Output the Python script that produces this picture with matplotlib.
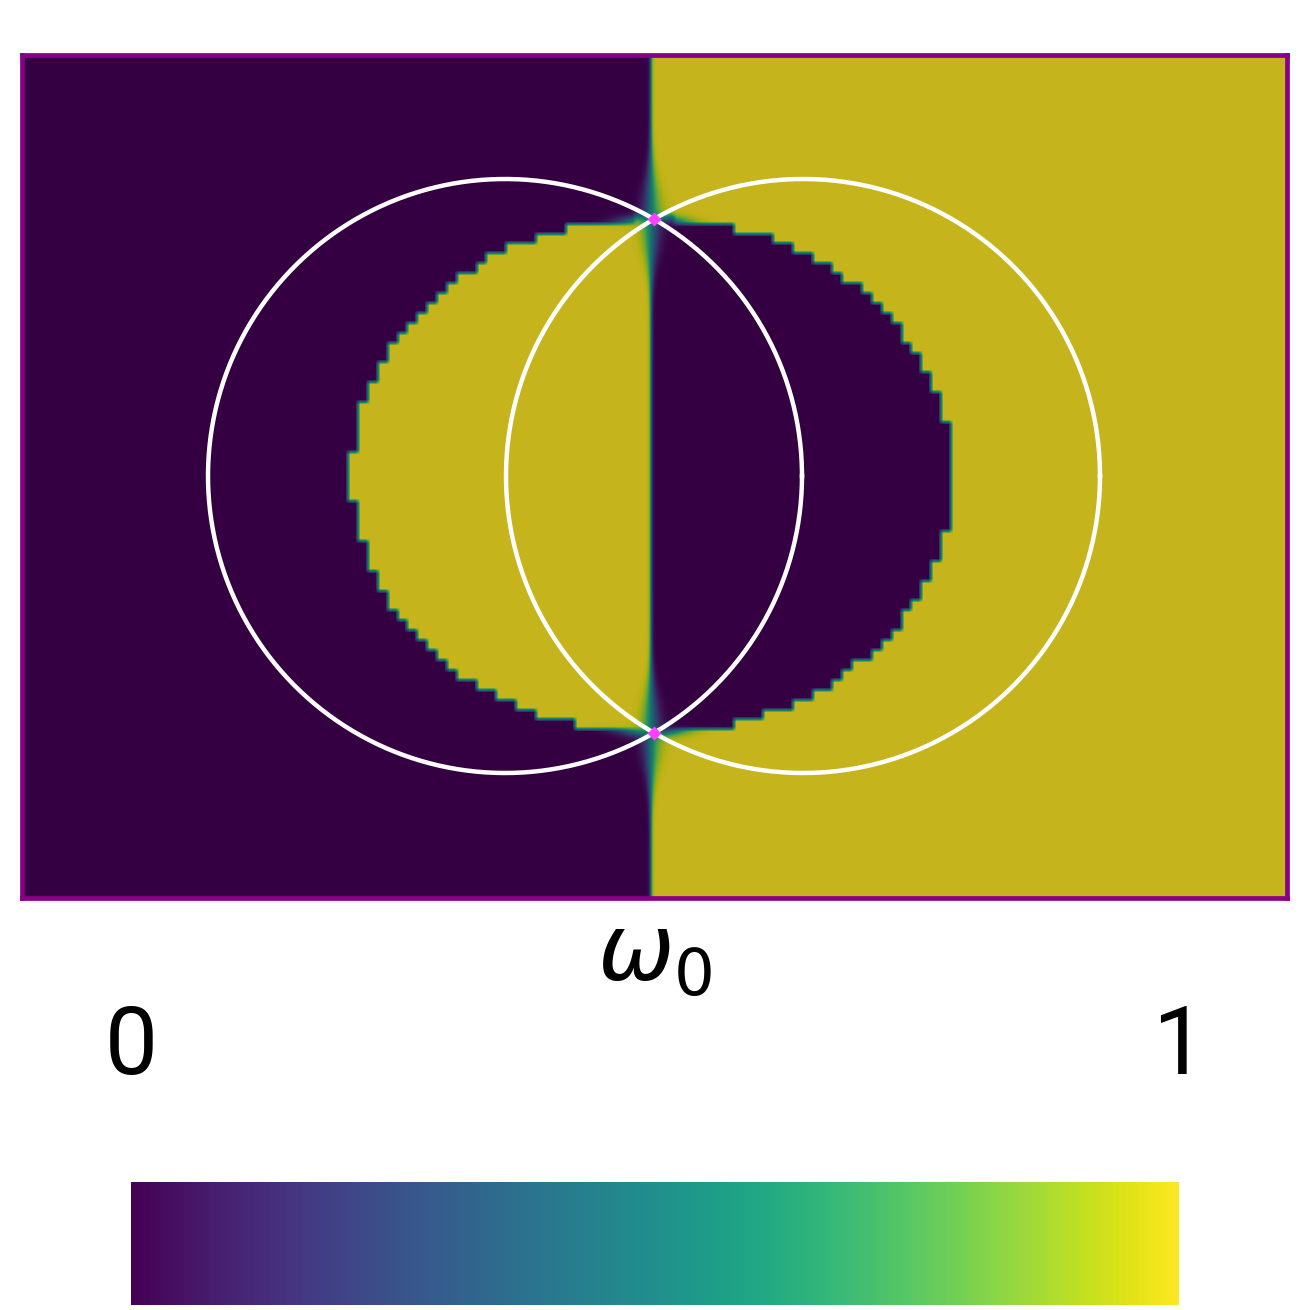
import numpy as np
import matplotlib.pyplot as plt
from matplotlib.colors import ListedColormap

# domain in image pixels
x_lo, x_hi = 22, 1287
y_lo, y_hi = 55, 898

# circles (centre x, centre y, radius)
circ_x = [505, 803]
circ_y = [476, 476]
circ_r = [297, 297]

# points where the circles meet
pts_x = [654, 654]
pts_y = [219, 733]

# inner flipped region (stepped ellipse) and the dividing line
ell_cx, ell_cy = 652, 476
ell_a, ell_b = 300, 258
line_x = 651
nx_cells, ny_cells = 128, 85

bar_labels = ['0', '1']

# field
W = x_hi - x_lo
H = y_hi - y_lo
X, Y = np.meshgrid(np.arange(W) + x_lo + 0.5, np.arange(H) + y_lo + 0.5)

cw = W / nx_cells
ch = H / ny_cells
xc = x_lo + (np.floor((X - x_lo) / cw) + 0.5) * cw
yc = y_lo + (np.floor((Y - y_lo) / ch) + 0.5) * ch
inside = ((xc - ell_cx) / ell_a) ** 2 + ((yc - ell_cy) / ell_b) ** 2 < 1
g = np.where(inside, -1.0, 1.0)


def box(a, n, ax):
    k = np.ones(n) / n
    return np.apply_along_axis(lambda v: np.convolve(np.pad(v, n // 2, mode='edge'), k, mode='valid'), ax, a)


g = box(box(g, 5, 0), 5, 1)

r = np.minimum(np.hypot(X - pts_x[0], Y - pts_y[0]), np.hypot(X - pts_x[1], Y - pts_y[1]))
wt = np.exp(-(r / 35.0) ** 2)
E = ((X - ell_cx) / ell_a) ** 2 + ((Y - ell_cy) / ell_b) ** 2 - 1
g_s = np.tanh(E * ell_b / 2 / 5.0)
g = g * (1 - wt) + g_s * wt

w = 1.8 + 9 * np.exp(-(r / 45.0) ** 2)
sx = np.tanh((X - line_x) / w)
field = 0.5 + 0.5 * sx * g

vir = plt.get_cmap('viridis')(np.linspace(0, 1, 256))
dim = vir.copy()
dim[:, :3] *= 0.78
dim_cmap = ListedColormap(dim)

fig = plt.figure(figsize=(13.1, 13.1), dpi=100)
ax = fig.add_axes([x_lo / 1310, 1 - y_hi / 1310, W / 1310, H / 1310])
ax.imshow(field, cmap=dim_cmap, vmin=0, vmax=1, extent=(x_lo, x_hi, y_hi, y_lo),
          interpolation='bilinear', aspect='auto')
t = np.linspace(0, 2 * np.pi, 400)
for cx, cy, rr in zip(circ_x, circ_y, circ_r):
    ax.plot(cx + rr * np.cos(t), cy + rr * np.sin(t), color='white', lw=3.2)
ax.plot(pts_x, pts_y, 'D', color='#ff40ff', ms=7, mec='none')
ax.set_xlim(x_lo, x_hi)
ax.set_ylim(y_hi, y_lo)
ax.set_xticks([])
ax.set_yticks([])
for s in ax.spines.values():
    s.set_color('#880088')
    s.set_linewidth(3.4)

plt.rcParams['mathtext.fontset'] = 'dejavusans'
fig.text(0.5, 1 - 955 / 1310, r'$\omega_0$', fontsize=66, ha='center', va='center')
fig.text(131 / 1310, 1 - 1048 / 1310, bar_labels[0], fontsize=68, ha='center', va='center',
         family='Roboto')
fig.text(1179 / 1310, 1 - 1048 / 1310, bar_labels[1], fontsize=68, ha='center', va='center',
         family='Roboto')

cax = fig.add_axes([131 / 1310, 5 / 1310, 1048 / 1310, 123 / 1310])
cax.imshow(np.linspace(0, 1, 256)[None, :], cmap='viridis', aspect='auto')
cax.axis('off')

fig.savefig('out.png', dpi=100)
